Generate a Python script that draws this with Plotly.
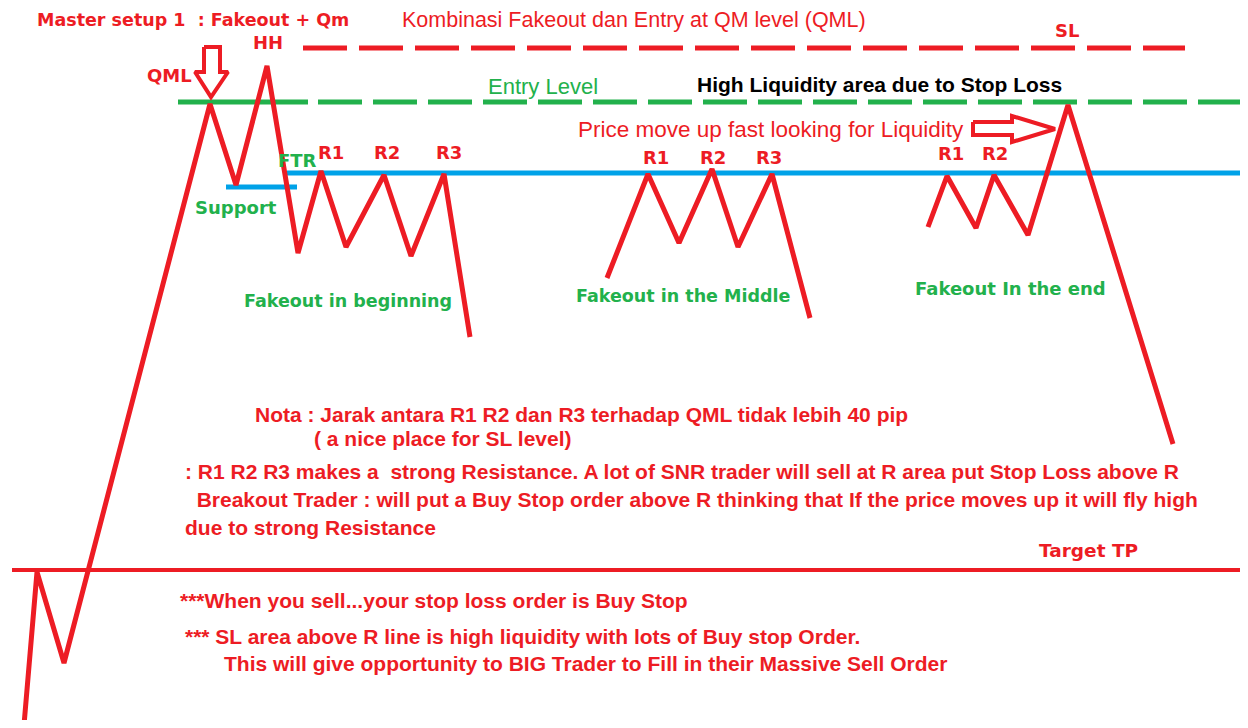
import plotly.graph_objects as go

RED = "#ed1c24"
GREEN = "#22b14c"
BLUE = "#00a2e8"

# price path segments (pixel-space diagram coordinates)
path1_x = [24, 37, 64, 210, 236, 267, 298, 321, 346, 384, 411, 444, 470]
path1_y = [725, 572, 663, 104, 185, 66, 253, 171, 247, 175, 256, 174, 337]
path2_x = [607, 648, 679, 712, 738, 772, 810]
path2_y = [278, 174, 243, 169, 247, 174, 318]
path3_x = [928, 947, 976, 994, 1028, 1068, 1173]
path3_y = [227, 176, 228, 175, 235, 105, 444]

# levels
resist_x = [287, 1240]; resist_y = [173, 173]
support_x = [226, 297]; support_y = [187, 187]
entry_solid_x = [178, 308]; entry_solid_y = [102, 102]
entry_dash_x = [318, 1242]; entry_dash_y = [102, 102]
sl_x = [303, 1185]; sl_y = [48, 48]
tp_x = [12, 1243]; tp_y = [570, 570]

# arrows
down_arrow_x = [204, 220, 220, 228, 211, 195, 204, 204]
down_arrow_y = [47, 47, 72, 72, 97, 72, 72, 47]
right_arrow_x = [973, 1012, 1012, 1055, 1012, 1012, 973, 973]
right_arrow_y = [122, 122, 116, 129, 142, 135, 135, 122]

fig = go.Figure()

def line(x, y, color, width, dash="solid"):
    fig.add_trace(go.Scatter(x=x, y=y, mode="lines", hoverinfo="skip",
                             line=dict(color=color, width=width, dash=dash)))

line(resist_x, resist_y, BLUE, 5)
line(support_x, support_y, BLUE, 5)
line(entry_solid_x, entry_solid_y, GREEN, 5)
line(entry_dash_x, entry_dash_y, GREEN, 5, "44px,11px")
line(sl_x, sl_y, RED, 5, "44px,12px")
line(tp_x, tp_y, RED, 4)
for px, py in [(path1_x, path1_y), (path2_x, path2_y), (path3_x, path3_y)]:
    fig.add_trace(go.Scatter(x=px, y=py, mode="lines", hoverinfo="skip",
                             line=dict(color=RED, width=5, shape="linear")))
for ax_, ay_ in [(down_arrow_x, down_arrow_y), (right_arrow_x, right_arrow_y)]:
    fig.add_trace(go.Scatter(x=ax_, y=ay_, mode="lines", fill="toself",
                             fillcolor="white", hoverinfo="skip",
                             line=dict(color=RED, width=4)))

BOLD = "DejaVu Sans"
SANS = "Liberation Sans"

labels = [
    # text, x, y, color, family, size, anchor, weight
    ("Master setup 1&nbsp; : Fakeout + Qm", 35, 20, RED, BOLD, 17.5, "left", "bold"),
    ("HH", 268, 42, RED, BOLD, 18, "center", "bold"),
    ("QML", 169, 75, RED, BOLD, 18, "center", "bold"),
    ("FTR", 297, 160, GREEN, BOLD, 18, "center", "bold"),
    ("R1", 331, 152, RED, BOLD, 18, "center", "bold"),
    ("R2", 387, 152, RED, BOLD, 18, "center", "bold"),
    ("R3", 449, 152, RED, BOLD, 18, "center", "bold"),
    ("R1", 656, 157, RED, BOLD, 18, "center", "bold"),
    ("R2", 713, 157, RED, BOLD, 18, "center", "bold"),
    ("R3", 769, 157, RED, BOLD, 18, "center", "bold"),
    ("R1", 951, 153, RED, BOLD, 18, "center", "bold"),
    ("R2", 995, 153, RED, BOLD, 18, "center", "bold"),
    ("SL", 1067, 30, RED, BOLD, 18, "center", "bold"),
    ("Support", 236, 207, GREEN, BOLD, 18, "center", "bold"),
    ("Fakeout in beginning", 348, 301, GREEN, BOLD, 17.5, "center", "bold"),
    ("Fakeout in the Middle", 683, 296, GREEN, BOLD, 17.5, "center", "bold"),
    ("Fakeout In the end", 1010, 288, GREEN, BOLD, 18, "center", "bold"),
    ("Target TP", 1088, 550, RED, BOLD, 18.5, "center", "bold"),
    ("Kombinasi Fakeout dan Entry at QM level (QML)", 400, 20, RED, SANS, 21.5, "left", "normal"),
    ("Entry Level", 543, 86, GREEN, SANS, 22, "center", "normal"),
    ("High Liquidity area due to Stop Loss", 695, 84, "#000000", SANS, 21, "left", "bold"),
    ("Price move up fast looking for Liquidity", 576, 129, RED, SANS, 22.5, "left", "normal"),
    ("Nota : Jarak antara R1 R2 dan R3 terhadap QML tidak lebih 40 pip", 253, 414, RED, SANS, 21, "left", "bold"),
    ("( a nice place for SL level)", 312, 438, RED, SANS, 21, "left", "bold"),
    (": R1 R2 R3 makes a&nbsp; strong Resistance. A lot of SNR trader will sell at R area put Stop Loss above R", 183, 471, RED, SANS, 21, "left", "bold"),
    ("&nbsp; Breakout Trader : will put a Buy Stop order above R thinking that If the price moves up it will fly high", 183, 499, RED, SANS, 21, "left", "bold"),
    ("due to strong Resistance", 183, 527, RED, SANS, 21, "left", "bold"),
    ("***When you sell...your stop loss order is Buy Stop", 178, 600, RED, SANS, 21, "left", "bold"),
    ("*** SL area above R line is high liquidity with lots of Buy stop Order.", 183, 636, RED, SANS, 21, "left", "bold"),
    ("This will give opportunity to BIG Trader to Fill in their Massive Sell Order", 222, 663, RED, SANS, 21, "left", "bold"),
]

for t, x, y, c, fam, sz, anc, w in labels:
    fig.add_annotation(x=x, y=y, text=t, showarrow=False, xanchor=anc, yanchor="middle",
                       font=dict(color=c, family=fam, size=sz, weight=w))

# the page body has an 8px margin: shift the visible window so page pixels match
fig.update_layout(
    width=1232, height=712, margin=dict(l=0, r=0, t=0, b=0),
    paper_bgcolor="white", plot_bgcolor="white", showlegend=False,
    xaxis=dict(range=[8, 1240], visible=False, fixedrange=True),
    yaxis=dict(range=[720, 8], visible=False, fixedrange=True),
)

fig.write_html("out.html")
